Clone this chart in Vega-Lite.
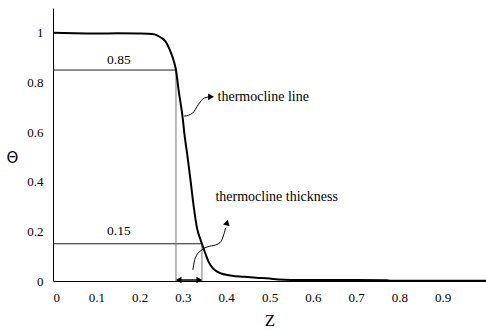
{
  "$schema": "https://vega.github.io/schema/vega-lite/v6.json",
  "width": 433,
  "height": 273,
  "autosize": {"type": "none"},
  "padding": {"left": 53, "top": 8, "right": 0, "bottom": 49},
  "config": {
    "view": {"stroke": null},
    "font": "Liberation Serif",
    "axis": {"grid": false, "ticks": false, "domainColor": "#000", "domainWidth": 1, "labelColor": "#000", "labelFont": "Liberation Serif", "labelFontSize": 13, "titleFontWeight": "normal", "titleColor": "#000"}
  },
  "datasets": {
    "curve": [
      {"z": 0.0, "t": 1.0}, {"z": 0.05, "t": 0.998}, {"z": 0.1, "t": 0.997}, {"z": 0.15, "t": 0.998},
      {"z": 0.2, "t": 0.997}, {"z": 0.23, "t": 0.995}, {"z": 0.24, "t": 0.99}, {"z": 0.25, "t": 0.98},
      {"z": 0.26, "t": 0.965}, {"z": 0.27, "t": 0.93}, {"z": 0.28, "t": 0.88}, {"z": 0.284, "t": 0.85},
      {"z": 0.29, "t": 0.77}, {"z": 0.3, "t": 0.65}, {"z": 0.303, "t": 0.6}, {"z": 0.31, "t": 0.51},
      {"z": 0.318, "t": 0.4}, {"z": 0.325, "t": 0.3}, {"z": 0.333, "t": 0.21}, {"z": 0.34, "t": 0.17},
      {"z": 0.344, "t": 0.15}, {"z": 0.35, "t": 0.12}, {"z": 0.36, "t": 0.075}, {"z": 0.37, "t": 0.05},
      {"z": 0.38, "t": 0.037}, {"z": 0.39, "t": 0.029}, {"z": 0.4, "t": 0.025}, {"z": 0.413, "t": 0.021},
      {"z": 0.44, "t": 0.017}, {"z": 0.47, "t": 0.013}, {"z": 0.5, "t": 0.01}, {"z": 0.52, "t": 0.006},
      {"z": 0.55, "t": 0.004}, {"z": 0.7, "t": 0.004}, {"z": 0.77, "t": 0.003}, {"z": 0.78, "t": 0.001},
      {"z": 1.0, "t": 0.001}
    ],
    "guides": [
      {"id": "h85", "z": 0, "z2": 0.284, "t": 0.85, "t2": 0.85},
      {"id": "h15", "z": 0, "z2": 0.344, "t": 0.15, "t2": 0.15}
    ],
    "vguides": [
      {"id": "v85", "z": 0.284, "z2": 0.284, "t": 0.85, "t2": 0},
      {"id": "v15", "z": 0.344, "z2": 0.344, "t": 0.15, "t2": 0}
    ],
    "labels": [
      {"z": 0.152, "t": 0.89, "label": "0.85", "kind": "value"},
      {"z": 0.152, "t": 0.2, "label": "0.15", "kind": "value"},
      {"z": 0.38, "t": 0.742, "label": "thermocline line", "kind": "note"},
      {"z": 0.375, "t": 0.34, "label": "thermocline thickness", "kind": "note"}
    ],
    "paths": [
      {"id": "a1", "o": 0, "z": 0.303, "t": 0.664},
      {"id": "a1", "o": 1, "z": 0.322, "t": 0.676},
      {"id": "a1", "o": 2, "z": 0.336, "t": 0.712},
      {"id": "a1", "o": 3, "z": 0.349, "t": 0.737},
      {"id": "a1", "o": 4, "z": 0.362, "t": 0.742},
      {"id": "a2", "o": 0, "z": 0.323, "t": 0.045},
      {"id": "a2", "o": 1, "z": 0.329, "t": 0.095},
      {"id": "a2", "o": 2, "z": 0.346, "t": 0.128},
      {"id": "a2", "o": 3, "z": 0.386, "t": 0.155},
      {"id": "a2", "o": 4, "z": 0.399, "t": 0.215}
    ],
    "span": [{"z": 0.29, "z2": 0.338, "t": 0.004}],
    "heads": [
      {"id": "a1", "z": 0.365, "t": 0.742},
      {"id": "a2", "z": 0.402, "t": 0.235},
      {"id": "l", "z": 0.29, "t": 0.004},
      {"id": "r", "z": 0.338, "t": 0.004}
    ]
  },
  "layer": [
    {
      "data": {"name": "guides"},
      "mark": {"type": "rule", "color": "#222", "strokeWidth": 1},
      "encoding": {
        "x": {"field": "z", "type": "quantitative", "scale": {"domain": [0, 1]}, "axis": {"values": [0, 0.1, 0.2, 0.3, 0.4, 0.5, 0.6, 0.7, 0.8, 0.9], "format": ".1~f", "labelPadding": 10, "title": "Z", "titleFont": "Liberation Serif", "titleFontSize": 17, "titlePadding": 8}},
        "x2": {"field": "z2"},
        "y": {"field": "t", "type": "quantitative", "scale": {"domain": [0, 1.1]}, "axis": {"values": [0, 0.2, 0.4, 0.6, 0.8, 1], "format": ".1~f", "labelPadding": 10, "title": "Θ", "titleAngle": 0, "titleFont": "DejaVu Sans", "titleFontSize": 15, "titleX": -41, "titleY": 149, "titleAlign": "center", "titleBaseline": "middle"}},
        "y2": {"field": "t2"}
      }
    },
    {
      "data": {"name": "vguides"},
      "mark": {"type": "rule", "color": "#777", "strokeWidth": 1},
      "encoding": {
        "x": {"field": "z", "type": "quantitative"},
        "x2": {"field": "z2"},
        "y": {"field": "t", "type": "quantitative"},
        "y2": {"field": "t2"}
      }
    },
    {
      "data": {"name": "curve"},
      "mark": {"type": "line", "color": "#000", "strokeWidth": 2, "interpolate": "monotone"},
      "encoding": {
        "x": {"field": "z", "type": "quantitative"},
        "y": {"field": "t", "type": "quantitative"}
      }
    },
    {
      "data": {"name": "paths"},
      "mark": {"type": "line", "color": "#000", "strokeWidth": 1, "interpolate": "monotone"},
      "encoding": {
        "x": {"field": "z", "type": "quantitative"},
        "y": {"field": "t", "type": "quantitative"},
        "detail": {"field": "id"},
        "order": {"field": "o"}
      }
    },
    {
      "data": {"name": "span"},
      "mark": {"type": "rule", "color": "#000", "strokeWidth": 1.5},
      "encoding": {
        "x": {"field": "z", "type": "quantitative"},
        "x2": {"field": "z2"},
        "y": {"field": "t", "type": "quantitative"}
      }
    },
    {
      "data": {"name": "heads"},
      "transform": [{"filter": "datum.id == 'a1' || datum.id == 'r'"}],
      "mark": {"type": "point", "shape": "triangle-right", "filled": true, "color": "#000", "size": 45, "opacity": 1},
      "encoding": {
        "x": {"field": "z", "type": "quantitative"},
        "y": {"field": "t", "type": "quantitative"}
      }
    },
    {
      "data": {"name": "heads"},
      "transform": [{"filter": "datum.id == 'l'"}],
      "mark": {"type": "point", "shape": "triangle-left", "filled": true, "color": "#000", "size": 45, "opacity": 1},
      "encoding": {
        "x": {"field": "z", "type": "quantitative"},
        "y": {"field": "t", "type": "quantitative"}
      }
    },
    {
      "data": {"name": "heads"},
      "transform": [{"filter": "datum.id == 'a2'"}],
      "mark": {"type": "point", "shape": "triangle-up", "angle": 15, "filled": true, "color": "#000", "size": 45, "opacity": 1},
      "encoding": {
        "x": {"field": "z", "type": "quantitative"},
        "y": {"field": "t", "type": "quantitative"}
      }
    },
    {
      "data": {"name": "labels"},
      "transform": [{"filter": "datum.kind == 'value'"}],
      "mark": {"type": "text", "font": "Liberation Serif", "fontSize": 13.5, "color": "#000", "align": "center", "baseline": "middle"},
      "encoding": {
        "x": {"field": "z", "type": "quantitative"},
        "y": {"field": "t", "type": "quantitative"},
        "text": {"field": "label"}
      }
    },
    {
      "data": {"name": "labels"},
      "transform": [{"filter": "datum.kind == 'note'"}],
      "mark": {"type": "text", "font": "Liberation Serif", "fontSize": 14, "color": "#000", "align": "left", "baseline": "middle"},
      "encoding": {
        "x": {"field": "z", "type": "quantitative"},
        "y": {"field": "t", "type": "quantitative"},
        "text": {"field": "label"}
      }
    }
  ]
}
